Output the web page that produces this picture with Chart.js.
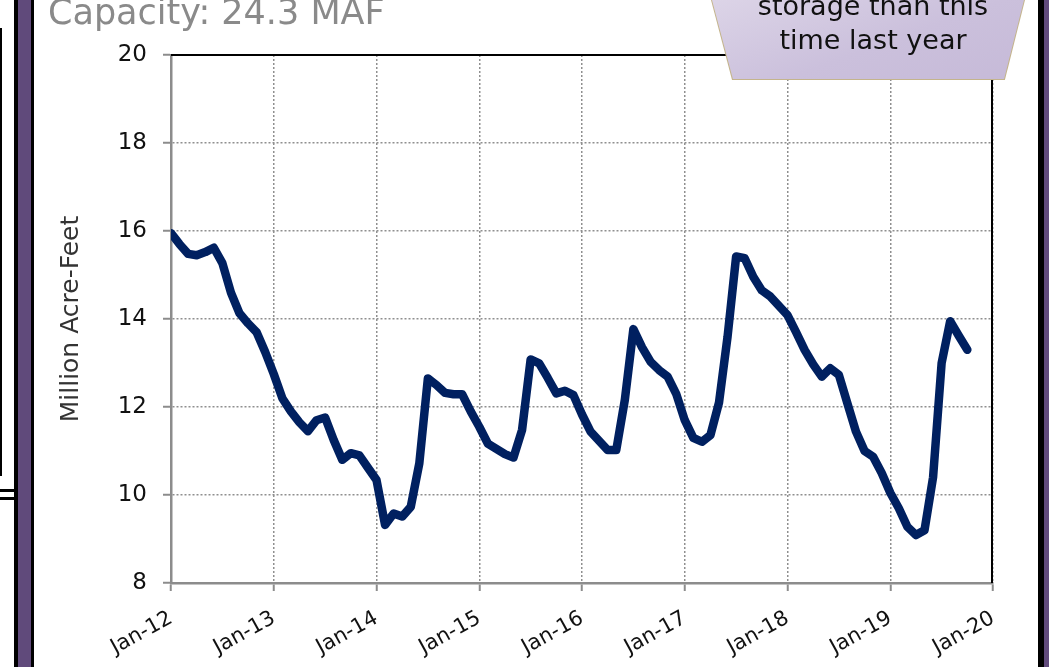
<!DOCTYPE html>
<html>
<head>
<meta charset="utf-8">
<script src="https://cdn.jsdelivr.net/npm/chart.js@4"></script>
<style>
  html, body { margin: 0; padding: 0; background: #fff; }
  body { width: 1049px; height: 667px; position: relative; overflow: hidden; font-family: 'DejaVu Sans', sans-serif; }
  #wrap { position: absolute; left: 0; top: 0; width: 1049px; height: 667px; }
  .deco { position: absolute; }
  #title { position: absolute; left: 48px; top: -5px; font-size: 35px; line-height: 35px; color: #8a8a8a; white-space: nowrap; }
  #callout { position: absolute; left: 711px; top: 0; width: 314px; height: 80px;
    background: #c4b48c;
    clip-path: polygon(0 0, 100% 0, 93.6% 100%, 6.7% 100%); }
  #callout-fill { position: absolute; left: 712px; top: 0; width: 312px; height: 79px;
    background: linear-gradient(160deg, #dcd4e7 0%, #cbc0dc 55%, #c6bad8 100%);
    clip-path: polygon(0 0, 100% 0, 93.6% 100%, 6.7% 100%); }
  #callout-text { position: absolute; left: 711px; top: -11px; width: 324px; text-align: center;
    font-size: 27px; line-height: 34px; color: #111; }
</style>
</head>
<body>
<div id="wrap"><canvas id="chart"></canvas></div>

<!-- slide frame bits -->
<div class="deco" style="left:0;top:28px;width:2px;height:448px;background:#000"></div>
<div class="deco" style="left:0;top:489px;width:18px;height:3px;background:#000"></div>
<div class="deco" style="left:0;top:497px;width:18px;height:3px;background:#000"></div>
<div class="deco" style="left:14px;top:0;width:20px;height:667px;background:#000"></div>
<div class="deco" style="left:18px;top:0;width:13px;height:667px;background:#604a7b"></div>
<div class="deco" style="left:1038px;top:0;width:11px;height:667px;background:#000"></div>
<div class="deco" style="left:1044px;top:0;width:5px;height:667px;background:#604a7b"></div>

<div id="title">Capacity: 24.3 MAF</div>
<div id="callout"></div>
<div id="callout-fill"></div>
<div id="callout-text">storage than this<br>time last year</div>

<script>
// monthly storage, Jan-12 .. Oct-19 (million acre-feet)
const storage = [
  15.95, 15.7, 15.48, 15.45, 15.52, 15.62, 15.27, 14.6, 14.13, 13.9, 13.7, 13.25,
  12.75, 12.2, 11.9, 11.65, 11.45, 11.7, 11.76, 11.25, 10.8, 10.95, 10.9, 10.62,
  10.34, 9.32, 9.58, 9.51, 9.73, 10.72, 12.65, 12.5, 12.32, 12.29, 12.29, 11.9,
  11.55, 11.17, 11.05, 10.93, 10.85, 11.48, 13.08, 12.99, 12.66, 12.31, 12.37, 12.27,
  11.83, 11.44, 11.23, 11.02, 11.02, 12.16, 13.77, 13.36, 13.03, 12.84, 12.69, 12.3,
  11.7, 11.3, 11.21, 11.36, 12.1, 13.6, 15.42, 15.38, 14.96, 14.65, 14.51, 14.3,
  14.09, 13.7, 13.3, 12.97, 12.69, 12.88, 12.73, 12.08, 11.44, 11.0, 10.87, 10.5,
  10.05, 9.7, 9.28, 9.09, 9.2, 10.4, 13.0, 13.95, 13.62, 13.3
];
const xTickLabels = ['Jan-12', 'Jan-13', 'Jan-14', 'Jan-15', 'Jan-16', 'Jan-17', 'Jan-18', 'Jan-19', 'Jan-20'];
const yTicks = [8, 10, 12, 14, 16, 18, 20];

const points = storage.map((v, i) => ({ x: i, y: v }));

// black top/right frame of the plot area
const plotFrame = {
  id: 'plotFrame',
  afterDraw(chart) {
    const { ctx, chartArea: a } = chart;
    ctx.save();
    ctx.strokeStyle = '#000';
    ctx.lineWidth = 2;
    ctx.beginPath();
    ctx.moveTo(a.left, a.top);
    ctx.lineTo(a.right - 1, a.top);
    ctx.lineTo(a.right - 1, a.bottom);
    ctx.stroke();
    ctx.restore();
  }
};

const gridOpts = { color: '#8f8f8f', lineWidth: 1.5, tickLength: 8, tickColor: '#8c8c8c', tickWidth: 2, tickBorderDash: [] };
const borderOpts = { color: '#8c8c8c', width: 2.5, dash: [2, 2] };

new Chart(document.getElementById('chart'), {
  type: 'line',
  data: {
    datasets: [{
      data: points,
      borderColor: '#002060',
      borderWidth: 8.5,
      pointRadius: 0,
      tension: 0,
      borderJoinStyle: 'round',
      borderCapStyle: 'round',
    }],
  },
  options: {
    responsive: true,
    maintainAspectRatio: false,
    animation: false,
    layout: { padding: { left: 56, right: 56, top: 55, bottom: 0 } },
    plugins: { legend: { display: false }, tooltip: { enabled: false } },
    scales: {
      x: {
        type: 'linear',
        min: 0,
        max: 96,
        afterFit: (s) => { s.height = 84; },
        afterBuildTicks: (s) => { s.ticks = xTickLabels.map((_, i) => ({ value: i * 12 })); },
        ticks: {
          autoSkip: false,
          maxRotation: 29,
          minRotation: 29,
          padding: 15,
          color: '#111',
          font: { family: 'DejaVu Sans', size: 21 },
          callback: (v) => xTickLabels[v / 12],
        },
        grid: gridOpts,
        border: borderOpts,
      },
      y: {
        min: 8,
        max: 20,
        afterFit: (s) => { s.width = 115; },
        afterBuildTicks: (s) => { s.ticks = yTicks.map((v) => ({ value: v })); },
        title: {
          display: true,
          text: 'Million Acre-Feet',
          color: '#333',
          font: { family: 'DejaVu Sans', size: 25 },
          padding: 0,
        },
        ticks: {
          padding: 16,
          color: '#111',
          font: { family: 'DejaVu Sans', size: 23 },
        },
        grid: gridOpts,
        border: borderOpts,
      },
    },
  },
  plugins: [plotFrame],
});
</script>
</body>
</html>
